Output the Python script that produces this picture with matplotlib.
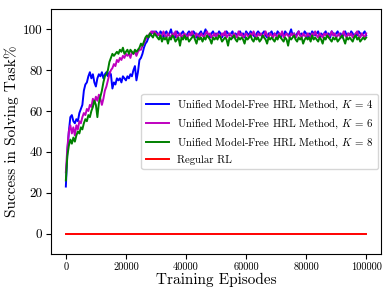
import matplotlib
matplotlib.use("Agg")
import matplotlib.pyplot as plt
import numpy as np

plt.rcParams['font.family'] = ['cmr10', 'DejaVu Serif']
plt.rcParams['mathtext.fontset'] = 'cm'
plt.rcParams['axes.unicode_minus'] = False
plt.rcParams['axes.formatter.use_mathtext'] = False

step = 500
episodes = list(range(0, 100001, step))

k4_early = [23, 40, 50, 57, 58, 55, 54, 56, 55, 59, 61, 63, 70, 73, 74, 77, 79, 76, 78, 74,
            72, 76, 78, 77, 79, 76, 78, 79, 77, 79, 78, 71, 74, 73, 76, 75, 76, 74, 77, 76,
            75, 77, 76, 78, 77, 80, 82, 75, 79, 85, 86, 88, 91, 93, 94, 96, 97, 98, 99, 98, 99]
k4_late = [98, 97, 99, 98, 96, 98, 99, 97, 98, 100, 97, 98, 96, 99, 98, 97, 98, 99, 97, 96,
           98, 99, 98, 97, 99, 98, 96, 97, 98, 99, 97, 98, 100, 98, 97, 96, 98, 99, 97, 98,
           97, 99, 98, 96, 98, 97, 99, 98, 97, 98, 99, 96, 98, 97, 98, 99, 97, 98, 96, 99,
           98, 97, 99, 98, 97, 96, 98, 99, 98, 97, 98, 99, 97, 96, 98, 98, 99, 97, 98, 97,
           99, 98, 96, 98, 97, 99, 98, 97, 98, 100, 97, 98, 96, 98, 99, 97, 98, 97, 99, 98,
           96, 98, 97, 99, 98, 97, 98, 99, 96, 98, 97, 98, 99, 97, 98, 96, 99, 98, 97, 98,
           99, 97, 98, 96, 98, 99, 97, 98, 97, 99, 98, 96, 98, 97, 99, 98, 97, 98, 99, 97]

k6_early = [30, 42, 50, 53, 49, 52, 48, 53, 51, 55, 54, 57, 59, 58, 61, 60, 63, 62, 66, 64,
            67, 65, 68, 66, 63, 66, 70, 72, 75, 78, 80, 81, 83, 82, 85, 84, 86, 85, 87, 86,
            88, 87, 88, 86, 89, 88, 89, 87, 89, 90, 90, 92, 93, 95, 96, 97, 98, 99, 98, 99, 98]
k6_late = [97, 98, 96, 97, 99, 97, 96, 98, 97, 96, 98, 97, 99, 96, 97, 98, 96, 97, 98, 97,
           96, 98, 97, 99, 97, 96, 98, 97, 96, 98, 97, 96, 98, 99, 97, 98, 96, 97, 98, 96,
           98, 97, 96, 98, 97, 99, 96, 97, 98, 97, 96, 98, 97, 96, 99, 97, 98, 96, 97, 98,
           97, 96, 98, 97, 99, 97, 96, 98, 97, 98, 96, 97, 99, 97, 96, 98, 97, 96, 98, 97,
           96, 98, 97, 99, 96, 97, 98, 97, 96, 98, 97, 98, 96, 97, 99, 97, 96, 98, 97, 96,
           98, 97, 96, 98, 97, 99, 97, 96, 98, 97, 96, 98, 97, 98, 96, 97, 99, 97, 98, 96,
           97, 98, 96, 97, 99, 97, 96, 98, 97, 98, 96, 97, 98, 99, 97, 96, 98, 97, 96, 98]

k8_early = [26, 38, 43, 46, 44, 47, 45, 48, 50, 49, 52, 51, 54, 56, 55, 58, 57, 60, 62, 65,
            63, 57, 64, 67, 70, 74, 77, 78, 80, 84, 86, 88, 87, 88, 89, 88, 90, 89, 91, 88,
            89, 90, 88, 90, 89, 88, 90, 89, 90, 91, 93, 92, 94, 96, 97, 96, 98, 97, 96, 98, 97]
k8_late = [96, 95, 97, 94, 96, 95, 96, 93, 96, 95, 97, 96, 94, 95, 96, 92, 96, 95, 97, 95,
           96, 94, 95, 96, 97, 95, 93, 96, 95, 96, 94, 96, 95, 97, 96, 95, 93, 96, 95, 96,
           95, 97, 96, 94, 95, 96, 95, 92, 96, 95, 96, 97, 95, 94, 96, 95, 96, 95, 93, 96,
           95, 96, 97, 95, 94, 96, 95, 96, 94, 95, 97, 96, 95, 93, 96, 95, 96, 95, 94, 96,
           95, 97, 96, 95, 94, 96, 95, 92, 96, 95, 96, 97, 95, 94, 96, 95, 96, 93, 95, 96,
           95, 96, 94, 97, 95, 96, 95, 94, 96, 95, 93, 96, 95, 97, 96, 95, 94, 96, 95, 96,
           94, 95, 96, 97, 95, 93, 96, 95, 96, 95, 94, 96, 97, 95, 96, 94, 95, 96, 95, 96]

regular_rl = [0] * len(episodes)

k4 = k4_early + k4_late
k6 = k6_early + k6_late
k8 = k8_early + k8_late

labels = [r'Unified Model-Free HRL Method, $K$ = 4',
          r'Unified Model-Free HRL Method, $K$ = 6',
          r'Unified Model-Free HRL Method, $K$ = 8',
          'Regular RL']
colors = ['#0000ff', '#bf00bf', '#008000', '#ff0000']
xticks = [0, 20000, 40000, 60000, 80000, 100000]
yticks = [0, 20, 40, 60, 80, 100]

fig = plt.figure(figsize=(3.91, 2.97), dpi=100)
ax = fig.add_axes([0.130, 0.145, 0.845, 0.825])
for series, lab, col in zip([k4, k6, k8, regular_rl], labels, colors):
    ax.plot(episodes, series, color=col, lw=1.4, label=lab)

ax.set_ylim(-10, 110)
ax.set_xticks(xticks)
ax.set_xticklabels([str(t) for t in xticks], fontsize=7.5)
ax.set_yticks(yticks)
ax.set_yticklabels([str(t) for t in yticks], fontsize=9.5)
ax.tick_params(axis='both', length=3.5, pad=2.5)
ax.set_xlabel('Training Episodes', fontsize=11, labelpad=1)
ax.set_ylabel('Success in Solving Task%', fontsize=11, labelpad=3)
ax.legend(loc='center right', fontsize=7.8, handlelength=2.1, borderpad=0.4,
          labelspacing=0.42, handletextpad=0.8, borderaxespad=0.3)
fig.savefig('out.png', dpi=100)
